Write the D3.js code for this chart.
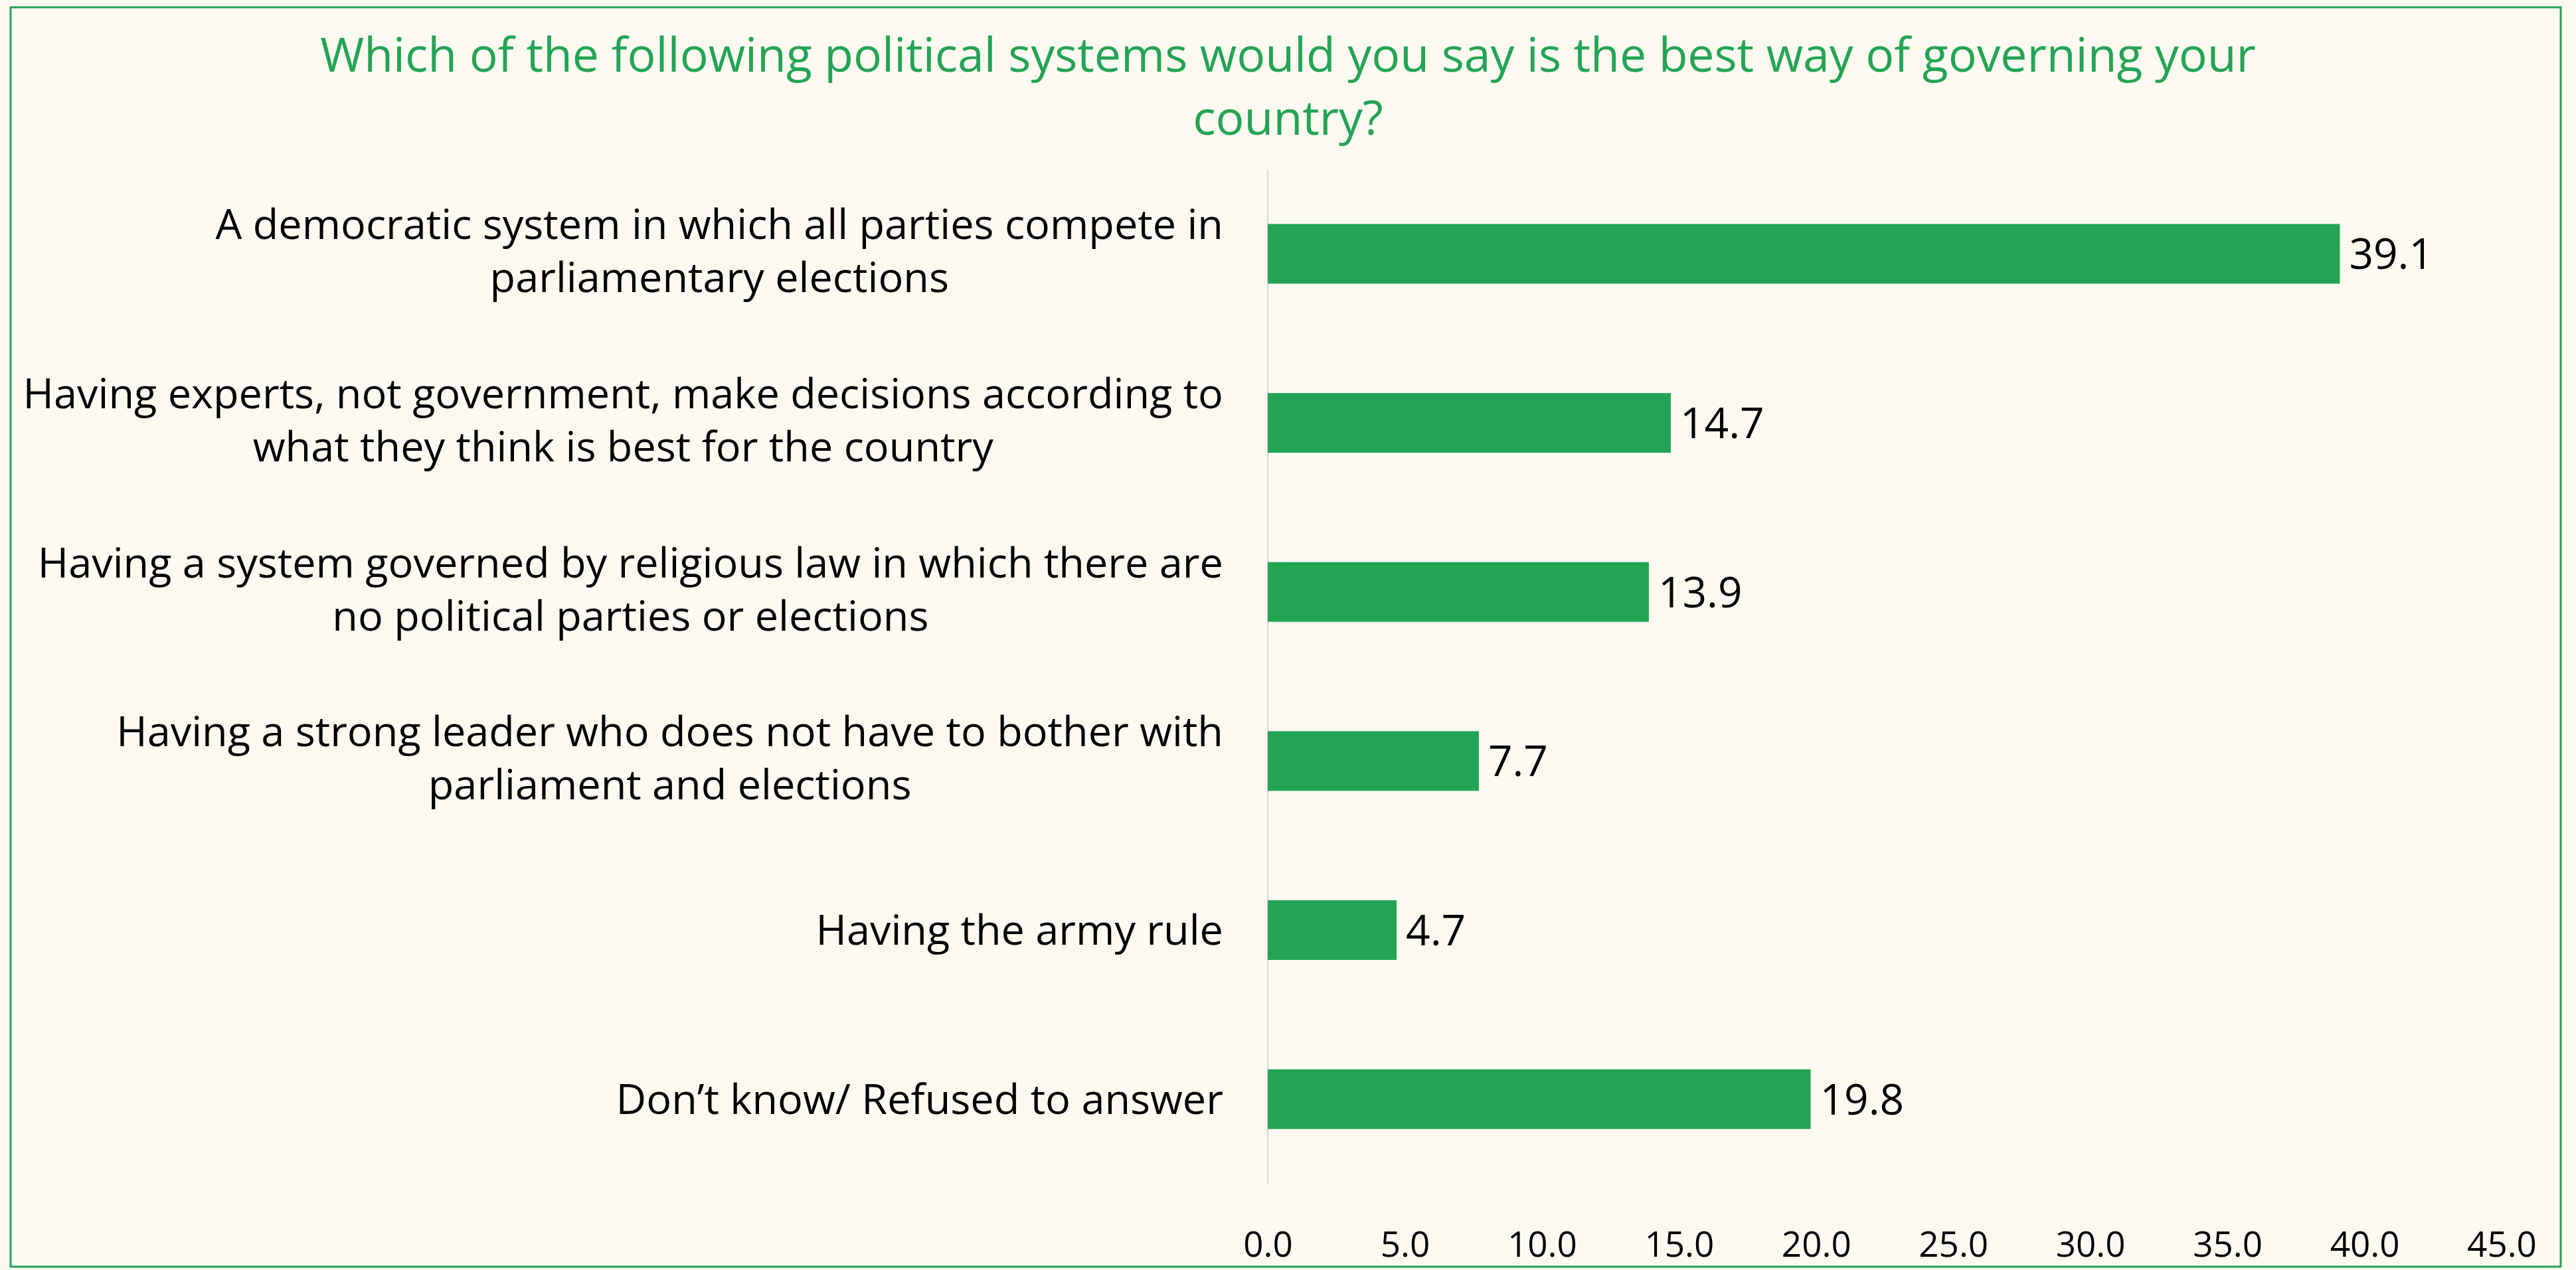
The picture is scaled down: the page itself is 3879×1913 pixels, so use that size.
<!DOCTYPE html>
<html>
<head>
<meta charset="utf-8">
<script src="https://cdn.jsdelivr.net/npm/d3@7"></script>
<style>
  html, body { margin: 0; padding: 0; background: #fcf9f0; }
  svg { display: block; }
  text { font-family: "Open Sans", "Noto Sans", sans-serif; }
</style>
</head>
<body>
<script>
// Survey responses: preferred political system (percent of respondents)
const titleLines = [
  "Which of the following political systems would you say is the best way of governing your",
  "country?"
];
const categories = [
  ["A democratic system in which all parties compete in", "parliamentary elections"],
  ["Having experts, not government, make decisions according to", "what they think is best for the country"],
  ["Having a system governed by religious law in which there are", "no political parties or elections"],
  ["Having a strong leader who does not have to bother with", "parliament and elections"],
  ["Having the army rule"],
  ["Don\u2019t know/ Refused to answer"]
];
const values = [39.1, 14.7, 13.9, 7.7, 4.7, 19.8];
const tickValues = [0, 5, 10, 15, 20, 25, 30, 35, 40, 45];

const W = 3879, H = 1913;
const green = "#23a455";
const plot = { left: 1909, right: 3767, top: 255, bottom: 1783 };
const labelRight = 1842;

const svg = d3.select("body").append("svg")
  .attr("width", W).attr("height", H);

svg.append("rect")
  .attr("x", 0).attr("y", 0).attr("width", W).attr("height", H)
  .attr("fill", "#fcf9f0");

// chart frame
svg.append("rect")
  .attr("x", 16).attr("y", 11)
  .attr("width", 3856 - 16).attr("height", 1908 - 11)
  .attr("fill", "none").attr("stroke", green).attr("stroke-width", 3);

// title
svg.append("text")
  .attr("text-anchor", "middle")
  .attr("fill", green)
  .attr("font-size", 71.5)
  .selectAll("tspan").data(titleLines).join("tspan")
  .attr("x", W / 2)
  .attr("y", (d, i) => 108 + i * 95)
  .text(d => d);

const x = d3.scaleLinear().domain([0, 45]).range([plot.left, plot.right]);
const y = d3.scaleBand()
  .domain(d3.range(categories.length))
  .range([plot.top, plot.bottom])
  .paddingInner(0.647)
  .paddingOuter(0.3235);

// x axis tick labels (no axis line or ticks)
const xAxis = svg.append("g")
  .attr("transform", `translate(0,${plot.bottom})`)
  .call(d3.axisBottom(x).tickValues(tickValues).tickFormat(d3.format(".1f")).tickSize(0).tickPadding(0));
xAxis.select(".domain").remove();
xAxis.selectAll("text")
  .attr("dy", null)
  .attr("y", 110)
  .attr("font-size", 53)
  .attr("font-family", "\"Open Sans\", sans-serif")
  .attr("fill", "#000");

// category axis line
svg.append("line")
  .attr("x1", plot.left).attr("x2", plot.left)
  .attr("y1", plot.top).attr("y2", plot.bottom)
  .attr("stroke", "#d9d9d9").attr("stroke-width", 2);

// bars
svg.append("g").selectAll("rect").data(values).join("rect")
  .attr("x", x(0))
  .attr("y", (d, i) => y(i))
  .attr("width", d => x(d) - x(0))
  .attr("height", y.bandwidth())
  .attr("fill", green);

// value labels
svg.append("g").selectAll("text").data(values).join("text")
  .attr("x", d => x(d) + 14)
  .attr("y", (d, i) => y(i) + y.bandwidth() / 2 + 23)
  .attr("font-size", 64)
  .attr("fill", "#000")
  .text(d => d.toFixed(1));

// category labels: block right-aligned to the axis, lines centred within the block
const labels = svg.append("g").selectAll("text").data(categories).join("text")
  .attr("text-anchor", "middle")
  .attr("font-size", 63)
  .attr("fill", "#000");
labels.selectAll("tspan").data((d, i) => d.map((t, j) => ({ t, j, n: d.length, i })))
  .join("tspan")
  .attr("y", d => {
    const c = y(d.i) + y.bandwidth() / 2;
    return d.n === 1 ? c + 22 : c - 22 + d.j * 80;
  })
  .text(d => d.t);
labels.each(function () {
  const spans = d3.select(this).selectAll("tspan");
  let maxW = 0;
  spans.each(function () { maxW = Math.max(maxW, this.getComputedTextLength()); });
  spans.attr("x", labelRight - maxW / 2);
});
</script>
</body>
</html>
